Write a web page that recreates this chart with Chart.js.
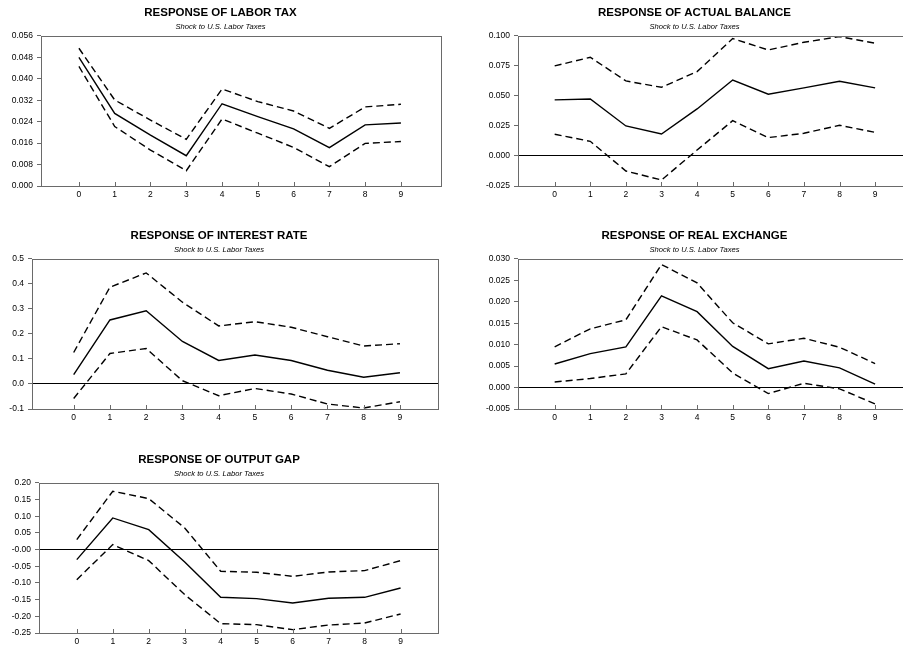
<!DOCTYPE html>
<html>
<head>
<meta charset="utf-8">
<script src="https://cdn.jsdelivr.net/npm/chart.js@4/dist/chart.umd.min.js"></script>
<style>
  html, body { margin: 0; padding: 0; background: #fff; overflow: hidden; width: 903px; height: 655px; }
  .panel { position: absolute; width: 450px; height: 205px; }
  canvas { display: block; }
</style>
</head>
<body>
<div class="panel" style="left:0px;top:0px"><canvas id="c1" width="450" height="205"></canvas></div>
<div class="panel" style="left:474px;top:0px"><canvas id="c2" width="450" height="205"></canvas></div>
<div class="panel" style="left:0px;top:223px"><canvas id="c3" width="450" height="205"></canvas></div>
<div class="panel" style="left:474px;top:223px"><canvas id="c4" width="450" height="205"></canvas></div>
<div class="panel" style="left:0px;top:447px"><canvas id="c5" width="450" height="205"></canvas></div>
<script>
// ---- data ----
const horizons = ['0','1','2','3','4','5','6','7','8','9'];
const subtitleText = 'Shock to U.S. Labor Taxes';

const laborTaxTitle = 'RESPONSE OF LABOR TAX';
const laborTaxTicks = ['0.000','0.008','0.016','0.024','0.032','0.040','0.048','0.056'];
const laborTaxIrf   = [0.0480, 0.0271, 0.0190, 0.0113, 0.0307, 0.0259, 0.0213, 0.0143, 0.0228, 0.0235];
const laborTaxUpper = [0.0514, 0.0321, 0.0246, 0.0174, 0.0362, 0.0315, 0.0280, 0.0215, 0.0295, 0.0305];
const laborTaxLower = [0.0446, 0.0222, 0.0134, 0.0057, 0.0250, 0.0197, 0.0144, 0.0072, 0.0159, 0.0166];

const balanceTitle = 'RESPONSE OF ACTUAL BALANCE';
const balanceTicks = ['-0.025','0.000','0.025','0.050','0.075','0.100'];
const balanceIrf   = [0.0467, 0.0475, 0.0250, 0.0183, 0.0392, 0.0633, 0.0514, 0.0567, 0.0622, 0.0567];
const balanceUpper = [0.0750, 0.0822, 0.0625, 0.0572, 0.0703, 0.0978, 0.0883, 0.0947, 0.0994, 0.0939];
const balanceLower = [0.0181, 0.0122, -0.0125, -0.0200, 0.0050, 0.0294, 0.0153, 0.0189, 0.0256, 0.0197];

const interestTitle = 'RESPONSE OF INTEREST RATE';
const interestTicks = ['-0.1','0.0','0.1','0.2','0.3','0.4','0.5'];
const interestIrf   = [0.037, 0.256, 0.293, 0.170, 0.094, 0.116, 0.094, 0.055, 0.027, 0.045];
const interestUpper = [0.126, 0.387, 0.444, 0.327, 0.232, 0.249, 0.227, 0.189, 0.152, 0.161];
const interestLower = [-0.058, 0.122, 0.142, 0.013, -0.047, -0.018, -0.040, -0.080, -0.096, -0.071];

const exchangeTitle = 'RESPONSE OF REAL EXCHANGE';
const exchangeTicks = ['-0.005','0.000','0.005','0.010','0.015','0.020','0.025','0.030'];
const exchangeIrf   = [0.0055, 0.0079, 0.0095, 0.0214, 0.0177, 0.0096, 0.0044, 0.0062, 0.0046, 0.0008];
const exchangeUpper = [0.0095, 0.0137, 0.0158, 0.0287, 0.0244, 0.0151, 0.0102, 0.0115, 0.0094, 0.0056];
const exchangeLower = [0.0013, 0.0021, 0.0032, 0.0142, 0.0111, 0.0034, -0.0014, 0.0010, -0.0003, -0.0038];

const outputGapTitle = 'RESPONSE OF OUTPUT GAP';
const outputGapTicks = ['-0.25','-0.20','-0.15','-0.10','-0.05','-0.00','0.05','0.10','0.15','0.20'];
const outputGapIrf   = [-0.030, 0.095, 0.060, -0.037, -0.143, -0.147, -0.160, -0.146, -0.143, -0.115];
const outputGapUpper = [0.030, 0.175, 0.153, 0.065, -0.065, -0.068, -0.080, -0.067, -0.063, -0.033];
const outputGapLower = [-0.090, 0.015, -0.033, -0.135, -0.222, -0.225, -0.240, -0.226, -0.220, -0.193];

// ---- drawing ----
const tickFont = { family: "'Liberation Sans Narrow','Arial Narrow','Liberation Sans',Arial,sans-serif", size: 8.5 };
const frameColor = '#6a6a6a';

const framePlugin = {
  id: 'frame',
  afterDraw(chart) {
    const { ctx, chartArea: a, scales } = chart;
    const x = scales.x;
    ctx.save();
    ctx.strokeStyle = frameColor;
    ctx.lineWidth = 1;
    ctx.strokeRect(Math.round(a.left) + 0.5, Math.round(a.top) + 0.5,
                   Math.round(a.right) - Math.round(a.left), Math.round(a.bottom) - Math.round(a.top));
    ctx.beginPath();
    x.ticks.forEach(t => {
      const px = Math.round(x.getPixelForValue(t.value)) + 0.5;
      ctx.moveTo(px, Math.round(a.bottom));
      ctx.lineTo(px, Math.round(a.bottom) - 4);
    });
    ctx.stroke();
    ctx.restore();
  }
};

function makePanel(id, title, tickLabels, irf, upper, lower, geom) {
  const yVals = tickLabels.map(s => parseFloat(s));
  const dashed = { borderColor: '#000', borderWidth: 1.4, borderDash: [7, 4], pointRadius: 0, fill: false, tension: 0 };
  new Chart(document.getElementById(id), {
    type: 'line',
    data: {
      labels: horizons,
      datasets: [
        { data: irf, borderColor: '#000', borderWidth: 1.4, pointRadius: 0, fill: false, tension: 0 },
        Object.assign({ data: upper }, dashed),
        Object.assign({ data: lower }, dashed)
      ]
    },
    options: {
      responsive: false,
      animation: false,
      events: [],
      layout: { padding: { left: 0, right: geom.padRight, top: 0, bottom: 0 } },
      plugins: {
        legend: { display: false },
        tooltip: { enabled: false },
        title: {
          display: true, text: title, color: '#000',
          font: { family: "'Liberation Sans',Arial,sans-serif", size: 11.5, weight: 'bold' },
          padding: { top: 6, bottom: 2 }
        },
        subtitle: {
          display: true, text: subtitleText, color: '#000',
          font: { family: "'Liberation Sans Narrow','Liberation Sans',Arial,sans-serif", size: 7.6, style: 'italic' },
          padding: { top: 1, bottom: 4 }
        }
      },
      scales: {
        x: {
          type: 'linear',
          min: geom.xMin, max: geom.xMax,
          afterBuildTicks: s => { s.ticks = horizons.map(h => ({ value: parseFloat(h) })); },
          afterFit: s => { s.height = 19; },
          grid: { display: true, drawOnChartArea: false, drawTicks: false },
          border: { display: false },
          ticks: { color: '#000', font: tickFont, padding: 4, maxRotation: 0, autoSkip: false,
                   callback: v => String(v) }
        },
        y: {
          type: 'linear',
          min: yVals[0], max: yVals[yVals.length - 1],
          afterBuildTicks: s => { s.ticks = yVals.map(v => ({ value: v })); },
          afterFit: s => { s.width = geom.yWidth; },
          grid: {
            drawOnChartArea: true, drawTicks: true, tickLength: 4,
            color: c => (c.tick && Math.abs(c.tick.value) < 1e-12 && c.index !== 0 && c.index !== yVals.length - 1) ? '#000' : 'rgba(0,0,0,0)',
            tickColor: frameColor, lineWidth: 1
          },
          border: { display: false },
          ticks: { color: '#000', font: tickFont, padding: 4, autoSkip: false,
                   callback: (v, i) => tickLabels[i] }
        }
      }
    },
    plugins: [framePlugin]
  });
}

makePanel('c1', laborTaxTitle, laborTaxTicks, laborTaxIrf, laborTaxUpper, laborTaxLower,
          { yWidth: 41, padRight: 9, xMin: -1.06, xMax: 10.12 });
makePanel('c2', balanceTitle, balanceTicks, balanceIrf, balanceUpper, balanceLower,
          { yWidth: 44, padRight: 9, xMin: -1.03, xMax: 10.12 });
makePanel('c3', interestTitle, interestTicks, interestIrf, interestUpper, interestLower,
          { yWidth: 32, padRight: 12, xMin: -1.15, xMax: 10.05 });
makePanel('c4', exchangeTitle, exchangeTicks, exchangeIrf, exchangeUpper, exchangeLower,
          { yWidth: 44, padRight: 9, xMin: -1.03, xMax: 10.12 });
makePanel('c5', outputGapTitle, outputGapTicks, outputGapIrf, outputGapUpper, outputGapLower,
          { yWidth: 39, padRight: 12, xMin: -1.05, xMax: 10.04 });
</script>
</body>
</html>
